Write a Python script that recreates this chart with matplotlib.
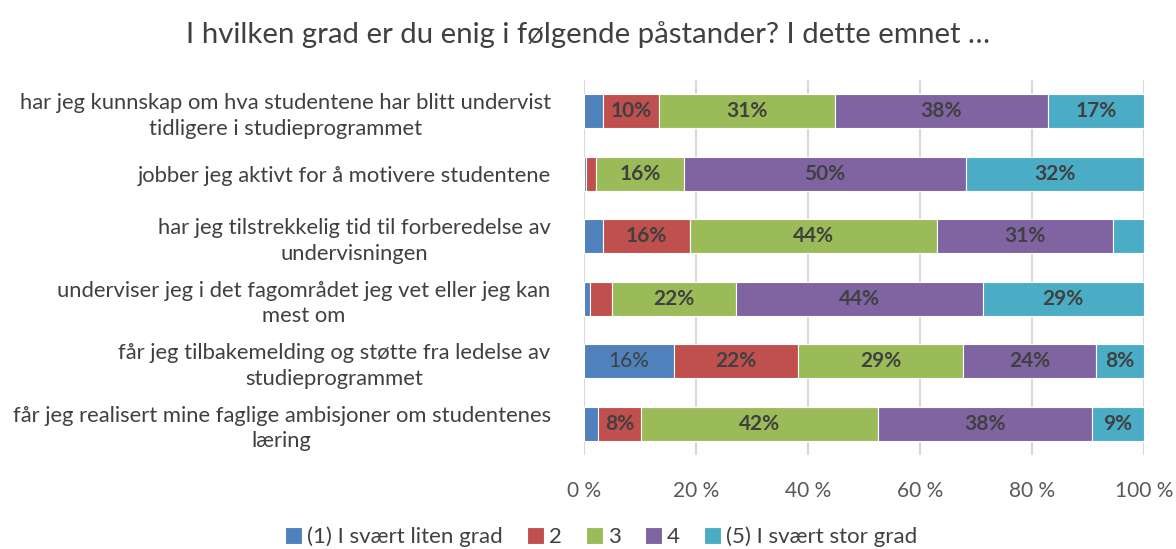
import matplotlib.pyplot as plt
import numpy as np

plt.rcParams['font.family'] = ['Lato', 'DejaVu Sans']

# --- data ---
categories = [
    "har jeg kunnskap om hva studentene har blitt undervist\ntidligere i studieprogrammet",
    "jobber jeg aktivt for å motivere studentene",
    "har jeg tilstrekkelig tid til forberedelse av\nundervisningen",
    "underviser jeg i det fagområdet jeg vet eller jeg kan\nmest om",
    "får jeg tilbakemelding og støtte fra ledelse av\nstudieprogrammet",
    "får jeg realisert mine faglige ambisjoner om studentenes\nlæring",
]
series_names = ["(1) I svært liten grad", "2", "3", "4", "(5) I svært stor grad"]
s1 = [3.4, 0.3, 3.4, 1.0, 16.0, 2.5]
s2 = [10.0, 1.9, 15.6, 4.0, 22.3, 7.7]
s3 = [31.4, 15.7, 44.1, 22.1, 29.3, 42.3]
s4 = [38.0, 50.3, 31.4, 44.1, 23.9, 38.2]
s5 = [17.2, 31.8, 5.5, 28.8, 8.5, 9.3]
colors = ["#4F81BD", "#C0504D", "#9BBB59", "#8064A2", "#4BACC6"]

fig = plt.figure(figsize=(11.76, 5.49), dpi=100)
ax = fig.add_axes([584 / 1176, 1 - 455 / 549, 560 / 1176, 375 / 549])

y = np.arange(len(categories))
left = np.zeros(len(categories))
for i, (vals, name, col) in enumerate(zip([s1, s2, s3, s4, s5], series_names, colors)):
    bars = ax.barh(y, vals, left=left, height=0.55, color=col, edgecolor="white",
                   linewidth=0.8, label=name, zorder=3)
    for b, v in zip(bars, vals):
        if v >= 7:
            ax.text(b.get_x() + b.get_width() / 2, b.get_y() + b.get_height() / 2,
                    f"{round(v)}%", ha="center", va="center", fontsize=15,
                    color="#404040", fontweight="normal" if i == 0 else "bold", zorder=4)
    left += np.array(vals)

ax.set_xlim(0, 100)
ax.set_ylim(len(categories) - 0.5, -0.5)
ax.set_yticks(y)
ax.set_yticklabels(categories, fontsize=15.8, color="#404040", multialignment="center",
                   linespacing=1.35)
ax.set_xticks([0, 20, 40, 60, 80, 100])
ax.set_xticklabels([f"{t} %" for t in [0, 20, 40, 60, 80, 100]], fontsize=15, color="#595959")
ax.tick_params(axis="y", length=0, pad=24)
ax.tick_params(axis="x", length=0, pad=19)
ax.grid(axis="x", color="#D9D9D9", linewidth=1.5, zorder=0)
for s in ax.spines.values():
    s.set_visible(False)

fig.suptitle("I hvilken grad er du enig i følgende påstander? I dette emnet …",
             fontsize=21.2, color="#404040", y=1 - 35 / 549, va="center")

fig.legend(loc="center", bbox_to_anchor=(0.511, 1 - 537 / 549), ncol=5, frameon=False,
           fontsize=16, labelcolor="#404040", handlelength=0.78, handleheight=0.78,
           handletextpad=0.2, columnspacing=1.1)

plt.savefig("out.png", dpi=100)
